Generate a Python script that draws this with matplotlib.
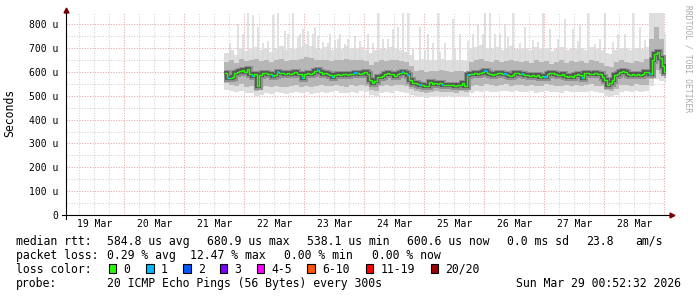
import numpy as np
import matplotlib
matplotlib.use('Agg')
import matplotlib.pyplot as plt
from matplotlib.patches import Rectangle

# hourly median rtt (us), first sample 21 Mar 16:00
median_us = [
    597, 575, 574, 578, 595, 598, 604, 606, 600, 612,
    590, 582, 590, 540, 585, 597, 594, 590, 590, 584,
    586, 600, 595, 596, 593, 597, 592, 595, 598, 592,
    590, 575, 592, 594, 590, 596, 604, 608, 598, 592,
    594, 590, 586, 580, 585, 590, 588, 592, 590, 587,
    591, 593, 594, 596, 592, 596, 598, 590, 566, 555,
    560, 580, 578, 582, 590, 596, 592, 590, 584, 590,
    595, 598, 596, 585, 565, 553, 552, 548, 545, 547,
    540, 542, 556, 550, 552, 549, 552, 546, 545, 547,
    544, 546, 543, 547, 545, 552, 540, 588, 590, 592,
    594, 590, 596, 600, 603, 597, 592, 585, 590, 596,
    594, 590, 592, 588, 582, 585, 594, 596, 590, 592,
    588, 585, 582, 588, 584, 586, 580, 582, 580, 592,
    596, 594, 590, 588, 586, 590, 584, 580, 582, 578,
    585, 590, 588, 575, 595, 594, 590, 592, 596, 593,
    590, 580, 565, 545, 552, 565, 588, 592, 600, 602,
    598, 590, 586, 592, 588, 590, 586, 592, 598, 600,
    590, 650, 675, 682, 660, 625, 600,
]
# hours (index into median_us) where 1 of 20 pings was lost
loss_one_hours = [1, 11, 19, 21, 31, 37, 43, 52, 71, 73, 78, 87, 97,
                  104, 112, 119, 128, 143, 170]

# smoke, 2-hour steps: outer (light) band and middle band, us
smoke_lo = [
    525, 518, 514, 520, 510, 512, 498, 505, 512, 508,
    515, 510, 506, 512, 515, 510, 514, 508, 512, 516,
    510, 514, 518, 512, 510, 515, 512, 518, 514, 502,
    500, 510, 515, 512, 518, 514, 510, 505, 498, 495,
    492, 496, 498, 494, 497, 495, 493, 498, 495, 512,
    518, 515, 520, 516, 514, 518, 520, 515, 518, 516,
    514, 518, 512, 515, 520, 516, 514, 512, 518, 515,
    517, 514, 516, 520, 515, 512, 500, 496, 505, 516,
    518, 515, 520, 516, 518, 540, 570, 560, 555,
]
smoke_hi = [
    678, 690, 672, 700, 688, 695, 705, 690, 700, 685,
    695, 708, 690, 700, 698, 705, 715, 710, 700, 695,
    705, 690, 700, 695, 710, 700, 695, 705, 690, 680,
    690, 700, 695, 705, 700, 690, 685, 670, 650, 655,
    648, 652, 650, 655, 650, 648, 652, 650, 645, 700,
    705, 712, 700, 695, 705, 690, 700, 710, 698, 695,
    700, 690, 705, 695, 700, 688, 695, 705, 690, 700,
    695, 700, 690, 705, 698, 690, 680, 675, 690, 700,
    695, 690, 700, 695, 705, 850, 850, 850, 760,
]
smoke_mid_lo = [
    552, 545, 540, 548, 538, 542, 520, 535, 540, 536,
    542, 538, 535, 540, 545, 538, 542, 536, 540, 545,
    540, 542, 546, 540, 538, 544, 540, 546, 542, 525,
    522, 540, 545, 542, 546, 544, 540, 530, 520, 515,
    512, 516, 518, 514, 517, 515, 512, 518, 514, 540,
    545, 542, 548, 544, 540, 546, 548, 542, 545, 544,
    542, 546, 540, 543, 548, 544, 542, 540, 546, 543,
    545, 542, 544, 548, 543, 540, 525, 518, 530, 544,
    546, 543, 548, 544, 546, 570, 610, 590, 575,
]
smoke_mid_hi = [
    640, 650, 638, 655, 645, 650, 655, 645, 650, 640,
    648, 655, 645, 650, 650, 655, 662, 660, 650, 648,
    652, 645, 650, 648, 655, 650, 648, 652, 645, 630,
    640, 648, 645, 652, 650, 645, 640, 625, 605, 608,
    600, 605, 602, 606, 603, 600, 604, 602, 598, 640,
    648, 655, 645, 642, 650, 640, 645, 652, 645, 640,
    645, 638, 650, 640, 645, 635, 640, 648, 638, 645,
    640, 645, 638, 650, 645, 638, 625, 620, 640, 648,
    642, 638, 645, 640, 655, 740, 790, 740, 670,
]
# single slow pings (spikes): hour index and height in us
spike_hours = [2, 5, 7, 9, 11, 13, 15, 17, 19, 21, 23, 24, 25, 27, 29, 30, 31,
               33, 35, 36, 37, 39, 41, 42, 44, 45, 46, 48, 49, 52, 54, 57, 59,
               61, 63, 65, 67, 69, 71, 73, 75, 78, 80, 81, 83, 85, 86, 88, 91,
               92, 94, 97, 99, 101, 103, 104, 106, 108, 110, 112, 113, 115, 118,
               120, 123, 125, 127, 130, 133, 136, 139, 141, 142, 145, 148, 150,
               152, 155, 157, 160, 163, 166, 168]
spike_tops = [720, 800, 760, 850, 840, 790, 720, 730, 840, 850, 710, 770, 760,
              850, 745, 760, 780, 770, 760, 790, 750, 725, 720, 760, 735, 740,
              760, 715, 740, 750, 730, 760, 720, 850, 740, 740, 780, 790, 850,
              850, 700, 790, 690, 760, 720, 850, 685, 720, 820, 700, 760, 730,
              760, 800, 760, 850, 850, 760, 760, 800, 745, 850, 720, 790, 735,
              725, 850, 780, 740, 820, 780, 730, 800, 850, 715, 740, 850, 725,
              760, 760, 850, 790, 735]

day_labels = ['19 Mar', '20 Mar', '21 Mar', '22 Mar', '23 Mar',
              '24 Mar', '25 Mar', '26 Mar', '27 Mar', '28 Mar']
ytick_labels = ['0', '100 u', '200 u', '300 u', '400 u',
                '500 u', '600 u', '700 u', '800 u']

loss_names = ['0', '1', '2', '3', '4-5', '6-10', '11-19', '20/20']
loss_colors = ['#26ff00', '#00b8ff', '#0059ff', '#7e00ff',
               '#ff00ff', '#ff5500', '#ff0000', '#a00000']

plt.rcParams['font.family'] = 'DejaVu Sans Mono'

W, H = 697, 297
fig = plt.figure(figsize=(W / 100, H / 100), dpi=100)
fig.patch.set_facecolor('white')

def fx(px):
    return px / W

def fy(py):
    return 1 - py / H

ax = fig.add_axes([66.4 / W, fy(215), 600 / W, 202 / H])
t0 = (52 + 32 / 60) / 1440  # 19 Mar 00:52:32, in days since 19 Mar 00:00
ax.set_xlim(t0, t0 + 10)
ax.set_ylim(0, 847)

start = 2 + 16 / 24
med = np.array(median_us, dtype=float)
edges = start + np.arange(len(med) + 1) / 24
edges_s = start + np.arange(len(smoke_lo) + 1) / 12
edges_s[-1] = edges[-1]

# grid (rrdtool style, dotted) - behind the smoke
for k in range(41):
    t = k * 0.25
    if t0 < t < t0 + 10:
        major = (k % 4 == 0)
        ax.axvline(t, color='#e4a8a8' if major else '#d2d2d2', lw=0.75,
                   ls=(0, (1, 1.5)), zorder=0.5 + major * 0.1)
for v in range(50, 850, 50):
    major = (v % 100 == 0)
    ax.axhline(v, color='#e4a8a8' if major else '#d2d2d2', lw=0.75,
               ls=(0, (1, 1.5)), zorder=0.5 + major * 0.1)

# smoke
ax.stairs(smoke_hi, edges_s, baseline=smoke_lo, fill=True, color='#dedede', lw=0, zorder=1)
sh = np.array(spike_hours)
ax.vlines(start + (sh + 0.5) / 24, med[sh], spike_tops, color='#d9d9d9', lw=1.1, zorder=1.5)
ax.stairs(smoke_mid_hi, edges_s, baseline=smoke_mid_lo, fill=True, color='#b6b6b6', lw=0, zorder=2)
ax.stairs(med, edges, baseline=None, color='#8e8e8e', lw=5, zorder=2.4)
ax.stairs(med, edges, baseline=None, color='#555555', lw=2.8, zorder=2.5)

# median, coloured by loss
ax.stairs(med, edges, baseline=None, color=loss_colors[0], lw=1.0, zorder=5)
lh = np.array(loss_one_hours)
ax.hlines(med[lh], edges[lh], edges[lh + 1], color=loss_colors[1], lw=1.6, zorder=6)

# axes
for s in ['top', 'right']:
    ax.spines[s].set_visible(False)
for s in ['left', 'bottom']:
    ax.spines[s].set_color('black')
    ax.spines[s].set_linewidth(0.8)
    ax.spines[s].set_zorder(7)
ax.set_xticks([d + 0.5 for d in range(10)], day_labels)
ax.set_yticks(range(0, 801, 100), ytick_labels)
ax.tick_params(axis='x', length=0, pad=3.2, labelsize=7)
ax.tick_params(axis='y', length=0, pad=5.6, labelsize=7)
ax.set_facecolor('white')

ax.plot([1, 1 + 5 / 600], [0, 0], transform=ax.transAxes, clip_on=False, color='black', lw=0.8)
ax.plot([1 + 6 / 600], [0], transform=ax.transAxes, clip_on=False, marker='>',
        color='#7a0000', ms=3.5, mec='#7a0000')
ax.plot([0, 0], [1, 1 + 2 / 202], transform=ax.transAxes, clip_on=False, color='black', lw=0.8)
ax.plot([0], [1 + 3 / 202], transform=ax.transAxes, clip_on=False, marker='^',
        color='#7a0000', ms=3.5, mec='#7a0000')
ax.plot([-4 / 600, 0], [0, 0], transform=ax.transAxes, clip_on=False, color='black', lw=0.8)
ax.plot([0, 0], [-4 / 202, 0], transform=ax.transAxes, clip_on=False, color='black', lw=0.8)

fig.text(fx(10), fy(113), 'Seconds', rotation=90, ha='center', va='center', fontsize=8.3)
fig.text(fx(688), fy(5), 'RRDTOOL / TOBI OETIKER', rotation=270, ha='center', va='top',
         fontsize=5.8, color='#aaaaaa')

# legend block
fs = 8.3
rows = [
    (245, [(16, 'median rtt:'), (107, '584.8 us avg'), (207, '680.9 us max'),
           (307, '538.1 us min'), (407, '600.6 us now'), (507, '0.0 ms sd'),
           (586, '23.8'), (635, 'am/s')]),
    (259, [(16, 'packet loss:'), (107, '0.29 % avg'), (190, '12.47 % max'),
           (284, '0.00 % min'), (372, '0.00 % now')]),
    (273, [(16, 'loss color:')]),
    (287, [(16, 'probe:'), (107, '20 ICMP Echo Pings (56 Bytes) every 300s')]),
]
for base, items in rows:
    for x, s in items:
        fig.text(fx(x), fy(base), s, ha='left', va='baseline', fontsize=fs)
fig.text(fx(681), fy(287), 'Sun Mar 29 00:52:32 2026', ha='right', va='baseline', fontsize=fs)

box_x = [108.5, 146, 183, 219.5, 256.5, 307, 365.5, 430.5]
for bx, name, col in zip(box_x, loss_names, loss_colors):
    fig.patches.append(Rectangle((fx(bx), fy(272.5)), 7.5 / W, 8.5 / H, transform=fig.transFigure,
                                 facecolor=col, edgecolor='black', lw=0.8))
    fig.text(fx(bx + 15), fy(273), name, ha='left', va='baseline', fontsize=fs)

fig.savefig('out.png', dpi=100, facecolor='white')
